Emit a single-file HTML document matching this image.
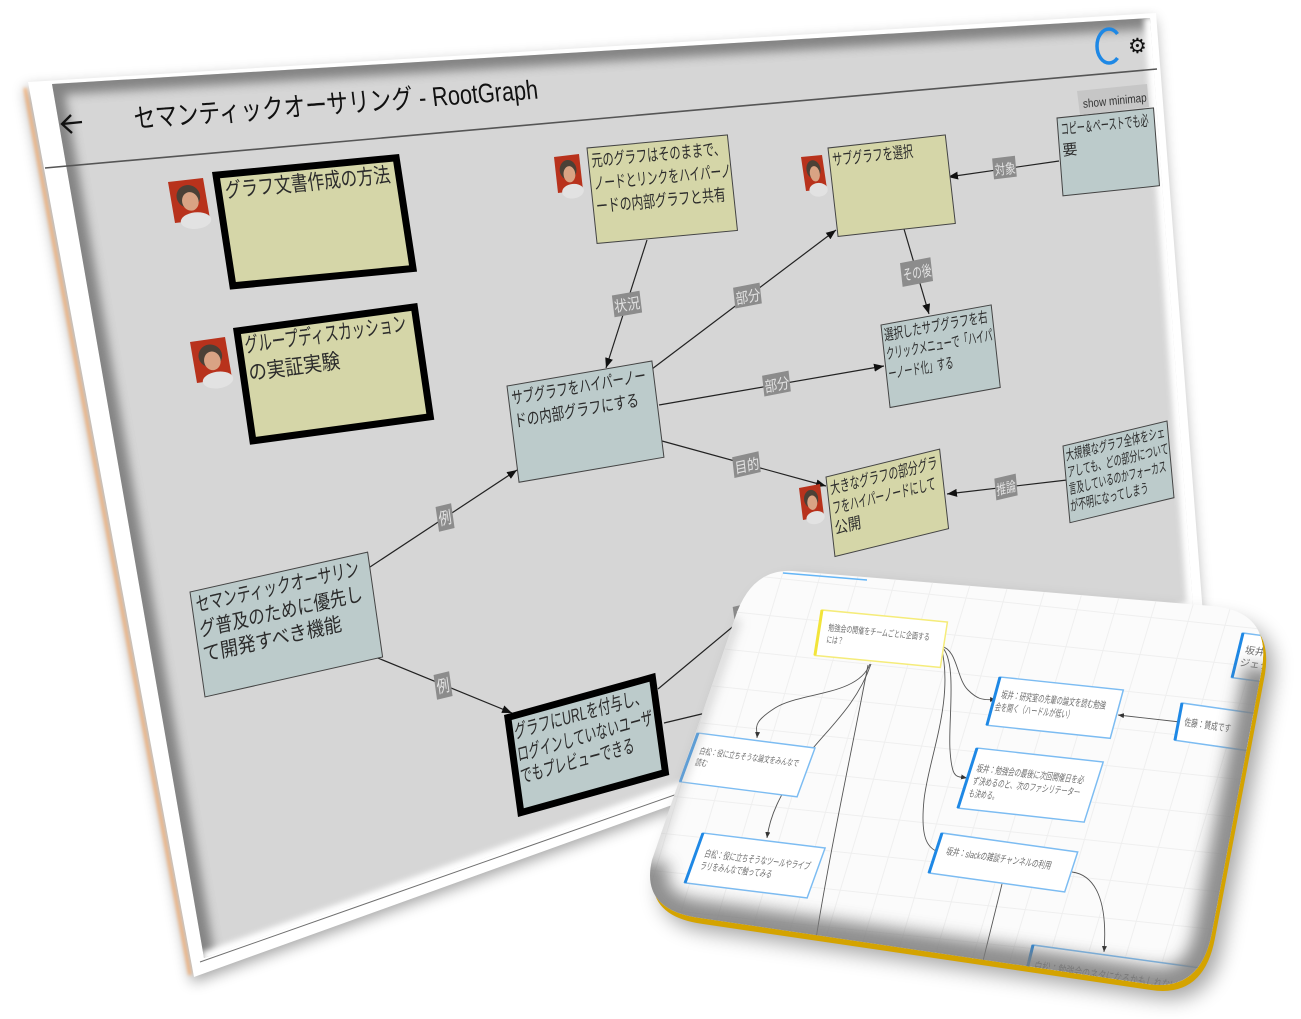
<!DOCTYPE html>
<html><head><meta charset="utf-8"><style>
html,body{margin:0;padding:0;background:#fff;width:1301px;height:1019px;overflow:hidden}
svg{display:block;font-family:"Liberation Sans","Noto Sans CJK JP",sans-serif}
</style></head><body>
<svg width="1301" height="1019" viewBox="0 0 1301 1019" xmlns="http://www.w3.org/2000/svg">
<defs>
<filter id="b7" filterUnits="userSpaceOnUse" x="0" y="0" width="1301" height="1019"><feGaussianBlur stdDeviation="7"/></filter>
<filter id="b5" filterUnits="userSpaceOnUse" x="0" y="0" width="1301" height="1019"><feGaussianBlur stdDeviation="5"/></filter>
<filter id="b3" filterUnits="userSpaceOnUse" x="0" y="0" width="1301" height="1019"><feGaussianBlur stdDeviation="3"/></filter>
<filter id="b10" filterUnits="userSpaceOnUse" x="0" y="0" width="1301" height="1019"><feGaussianBlur stdDeviation="10"/></filter>
<filter id="b8" filterUnits="userSpaceOnUse" x="0" y="0" width="1301" height="1019"><feGaussianBlur stdDeviation="8"/></filter>
<filter id="b1" filterUnits="userSpaceOnUse" x="0" y="0" width="1301" height="1019"><feGaussianBlur stdDeviation="1.5"/></filter>
<clipPath id="gp"><polygon points="52,84 1150,18 1193,606 204,958"/></clipPath>
<clipPath id="mm"><path d="M792,571 L1212,606 Q1271,611 1262,668 L1212,932 Q1201,992 1148,984 L700,918 Q640,910 652,860 L735,618 Q751,569 792,571 Z"/></clipPath>
<marker id="ar" viewBox="0 0 10 8" refX="10" refY="4" markerWidth="10" markerHeight="8" markerUnits="userSpaceOnUse" orient="auto"><path d="M0,0 L10,4 L0,8 z" fill="#111"/></marker>
<marker id="sm" viewBox="0 0 6 5" refX="6" refY="2.5" markerWidth="6" markerHeight="5" markerUnits="userSpaceOnUse" orient="auto"><path d="M0,0 L6,2.5 L0,5 z" fill="#333"/></marker>
<pattern id="grid" width="37" height="37" patternUnits="userSpaceOnUse" patternTransform="matrix(1 0.105 -0.3 1 0 0)"><path d="M0,0.5 H37 M0.5,0 V37" stroke="#efefef" stroke-width="1" fill="none"/></pattern>
<g id="av"><rect width="30" height="40" fill="#b8321c"/><ellipse cx="15" cy="16" rx="10" ry="11" fill="#4b4036"/><ellipse cx="16" cy="21" rx="7" ry="9" fill="#d9a384"/><ellipse cx="18" cy="40" rx="13" ry="8" fill="#e2e2e2"/></g>
</defs>

<!-- main panel shadow + frame -->
<polygon points="27,82 1156,13 1203,614 194,977" transform="translate(-2,6)" fill="#000" opacity="0.35" filter="url(#b7)"/>
<line x1="25" y1="88" x2="190" y2="975" stroke="#f7a35c" stroke-width="3" opacity="0.8" filter="url(#b1)"/>
<polygon points="28,82 1156,13 1203,614 194,977" fill="#fff"/>
<polygon points="52,84 1150,18 1193,606 204,958" fill="#d6d6d6"/>
<g clip-path="url(#gp)">
<polyline points="204,958 52,84 1150,18" stroke="#707070" stroke-width="22" fill="none" filter="url(#b5)" opacity="0.8"/>
<polyline points="1150,18 1193,606 204,958" stroke="#fff" stroke-width="12" fill="none" filter="url(#b3)"/>
</g>
<line x1="200" y1="962" x2="1200" y2="610" stroke="#333" stroke-width="1" opacity="0.7"/>

<!-- header -->
<line x1="45" y1="168" x2="1157" y2="69" stroke="#555" stroke-width="1.6"/>
<path d="M82,122 L62,124 M71,115 L62,124 L72,133" stroke="#111" stroke-width="2.3" fill="none"/>
<text transform="matrix(0.9973 -0.073 0.12 0.993 135 128)" x="0" y="0" font-size="27" fill="#111" textLength="405" lengthAdjust="spacingAndGlyphs">セマンティックオーサリング - RootGraph</text>
<path d="M1117.5,34 A12 17 0 1 0 1117.5,58" stroke="#1e88e5" stroke-width="3.5" fill="none"/>
<text x="1128" y="53" font-size="21" font-weight="bold" fill="#111" style="font-family:'DejaVu Sans',sans-serif">⚙</text>

<!-- edges -->
<g stroke="#222" stroke-width="1.2" fill="none" marker-end="url(#ar)">
<line x1="647" y1="240" x2="606" y2="368"/>
<line x1="652" y1="369" x2="836" y2="230"/>
<line x1="659" y1="405" x2="884" y2="366"/>
<line x1="662" y1="441" x2="826" y2="486"/>
<line x1="904" y1="229" x2="929" y2="314"/>
<line x1="1059" y1="161" x2="948" y2="177"/>
<line x1="1067" y1="480" x2="947" y2="494"/>
<line x1="370" y1="567" x2="517" y2="470"/>
<line x1="368" y1="654" x2="512" y2="713"/>
</g>
<g stroke="#222" stroke-width="1.2" fill="none">
<line x1="658" y1="689" x2="760" y2="604"/>
<line x1="664" y1="723" x2="760" y2="700"/>
</g>

<!-- avatars -->
<use href="#av" transform="matrix(1.167 -0.133 0.175 1.025 168 182)"/>
<use href="#av" transform="matrix(1.167 -0.167 0.175 1.025 190 342)"/>
<use href="#av" transform="matrix(0.833 -0.1 0.1 0.9 554 157)"/>
<use href="#av" transform="matrix(0.7 -0.067 0.125 0.85 801 157)"/>
<use href="#av" transform="matrix(0.7 -0.133 0.1 0.8 799 488)"/>

<!-- nodes -->
<g fill="#2b2b2b">
<g transform="matrix(0.9952 -0.0958 0.1508 0.9884 212 172)">
<rect x="3.5" y="3.5" width="181" height="112" fill="#d5d6a8" stroke="#000" stroke-width="7"/>
<text x="10" y="27" font-size="21" textLength="166" lengthAdjust="spacingAndGlyphs">グラフ文書作成の方法</text>
</g>
<g transform="matrix(0.9909 -0.1346 0.1438 0.9896 233 328)">
<rect x="3.5" y="3.5" width="179" height="111" fill="#d5d6a8" stroke="#000" stroke-width="7"/>
<text x="9" y="26" font-size="21" textLength="163" lengthAdjust="spacingAndGlyphs">グループディスカッション</text>
<text x="9" y="54" font-size="21" textLength="92" lengthAdjust="spacingAndGlyphs">の実証実験</text>
</g>
<g transform="matrix(0.9957 -0.0925 0.1047 0.9945 587 148)">
<rect x="0" y="0" width="141" height="96" fill="#d5d6a8" stroke="#444" stroke-width="1"/>
<text x="3" y="19" font-size="17" textLength="134" lengthAdjust="spacingAndGlyphs">元のグラフはそのままで、</text>
<text x="3" y="42" font-size="17" textLength="138" lengthAdjust="spacingAndGlyphs">ノードとリンクをハイパーノ</text>
<text x="3" y="65" font-size="17" textLength="130" lengthAdjust="spacingAndGlyphs">ードの内部グラフと共有</text>
</g>
<g transform="matrix(0.9940 -0.1104 0.1129 0.9936 828 148)">
<rect x="0" y="0" width="118" height="89" fill="#d5d6a8" stroke="#444" stroke-width="1"/>
<text x="3" y="18" font-size="16" textLength="81" lengthAdjust="spacingAndGlyphs">サブグラフを選択</text>
</g>
<g transform="matrix(0.9948 -0.1036 0.0767 0.9971 1057 118)">
<rect x="0" y="0" width="97" height="78" fill="#bccbcb" stroke="#444" stroke-width="1"/>
<text x="3" y="17" font-size="15" textLength="88" lengthAdjust="spacingAndGlyphs">コピー＆ペーストでも必</text>
<text x="3" y="38" font-size="15">要</text>
</g>
<g transform="matrix(0.9839 -0.1789 0.1091 0.9940 881 325)">
<rect x="0" y="0" width="112" height="83" fill="#bccbcb" stroke="#444" stroke-width="1"/>
<text x="2" y="16" font-size="15" textLength="105" lengthAdjust="spacingAndGlyphs">選択したサブグラフを右</text>
<text x="2" y="35" font-size="15" textLength="108" lengthAdjust="spacingAndGlyphs">クリックメニューで「ハイパ</text>
<text x="2" y="55" font-size="15" textLength="66" lengthAdjust="spacingAndGlyphs">ーノード化」する</text>
</g>
<g transform="matrix(0.9857 -0.1700 0.1241 0.9923 507 386)">
<rect x="0" y="0" width="147" height="97" fill="#bccbcb" stroke="#444" stroke-width="1"/>
<text x="3" y="19" font-size="17" textLength="136" lengthAdjust="spacingAndGlyphs">サブグラフをハイパーノー</text>
<text x="3" y="42" font-size="17" textLength="126" lengthAdjust="spacingAndGlyphs">ドの内部グラフにする</text>
</g>
<g transform="matrix(0.9711 -0.2385 0.1118 0.9937 826 477)">
<rect x="0" y="0" width="117" height="80" fill="#d5d6a8" stroke="#444" stroke-width="1"/>
<text x="3" y="18" font-size="16" textLength="110" lengthAdjust="spacingAndGlyphs">大きなグラフの部分グラ</text>
<text x="3" y="38" font-size="16" textLength="106" lengthAdjust="spacingAndGlyphs">フをハイパーノードにして</text>
<text x="3" y="58" font-size="16" textLength="27" lengthAdjust="spacingAndGlyphs">公開</text>
</g>
<g transform="matrix(0.9720 -0.2336 0.0906 0.9959 1063 446)">
<rect x="0" y="0" width="107" height="77" fill="#bccbcb" stroke="#444" stroke-width="1"/>
<text x="2" y="15" font-size="14" textLength="102" lengthAdjust="spacingAndGlyphs">大規模なグラフ全体をシェ</text>
<text x="2" y="32" font-size="14" textLength="104" lengthAdjust="spacingAndGlyphs">アしても、どの部分について</text>
<text x="2" y="49" font-size="14" textLength="100" lengthAdjust="spacingAndGlyphs">言及しているのかフォーカス</text>
<text x="2" y="66" font-size="14" textLength="80" lengthAdjust="spacingAndGlyphs">が不明になってしまう</text>
</g>
<g transform="matrix(0.9759 -0.2193 0.1414 0.9899 190 592)">
<rect x="0" y="0" width="182" height="106" fill="#bccbcb" stroke="#444" stroke-width="1"/>
<text x="4" y="21" font-size="20" textLength="167" lengthAdjust="spacingAndGlyphs">セマンティックオーサリン</text>
<text x="4" y="46" font-size="20" textLength="167" lengthAdjust="spacingAndGlyphs">グ普及のために優先し</text>
<text x="4" y="71" font-size="20" textLength="142" lengthAdjust="spacingAndGlyphs">て開発すべき機能</text>
</g>
<g transform="matrix(0.9636 -0.2680 0.1359 0.9907 504 715)">
<rect x="3.5" y="3.5" width="150" height="96" fill="#bccbcb" stroke="#000" stroke-width="7"/>
<text x="8" y="26" font-size="19" textLength="137" lengthAdjust="spacingAndGlyphs">グラフにURLを付与し、</text>
<text x="8" y="49" font-size="19" textLength="140" lengthAdjust="spacingAndGlyphs">ログインしていないユーザ</text>
<text x="8" y="71" font-size="19" textLength="118" lengthAdjust="spacingAndGlyphs">でもプレビューできる</text>
</g>
</g>

<!-- edge labels -->
<g fill="#e2e2e2">
<g transform="matrix(0.985 -0.17 0.12 0.99 627 304)"><rect x="-14" y="-11" width="28" height="22" fill="#8c8c8c"/><text x="0" y="6" font-size="15" text-anchor="middle" textLength="26" lengthAdjust="spacingAndGlyphs">状況</text></g>
<g transform="matrix(0.98 -0.19 0.11 0.99 748 296)"><rect x="-14" y="-11" width="27" height="21" fill="#8c8c8c"/><text x="0" y="6" font-size="15" text-anchor="middle" textLength="25" lengthAdjust="spacingAndGlyphs">部分</text></g>
<g transform="matrix(0.98 -0.19 0.11 0.99 777 384)"><rect x="-14" y="-11" width="27" height="21" fill="#8c8c8c"/><text x="0" y="6" font-size="15" text-anchor="middle" textLength="25" lengthAdjust="spacingAndGlyphs">部分</text></g>
<g transform="matrix(0.975 -0.22 0.11 0.99 747 465)"><rect x="-14" y="-11" width="27" height="21" fill="#8c8c8c"/><text x="0" y="6" font-size="15" text-anchor="middle" textLength="25" lengthAdjust="spacingAndGlyphs">目的</text></g>
<g transform="matrix(0.98 -0.19 0.11 0.99 917 272)"><rect x="-16" y="-12" width="31" height="24" fill="#8c8c8c"/><text x="0" y="6" font-size="15" text-anchor="middle" textLength="29" lengthAdjust="spacingAndGlyphs">その後</text></g>
<g transform="matrix(0.99 -0.12 0.09 0.99 1005 168)"><rect x="-12" y="-11" width="23" height="21" fill="#8c8c8c"/><text x="0" y="6" font-size="14" text-anchor="middle" textLength="21" lengthAdjust="spacingAndGlyphs">対象</text></g>
<g transform="matrix(0.97 -0.23 0.09 0.99 1006 487)"><rect x="-11" y="-11" width="22" height="22" fill="#8c8c8c"/><text x="0" y="6" font-size="14" text-anchor="middle" textLength="20" lengthAdjust="spacingAndGlyphs">推論</text></g>
<g transform="matrix(0.97 -0.24 0.14 0.99 445 517)"><rect x="-8" y="-12" width="16" height="25" fill="#8c8c8c"/><text x="0" y="7" font-size="17" text-anchor="middle" textLength="13" lengthAdjust="spacingAndGlyphs">例</text></g>
<g transform="matrix(0.97 -0.24 0.14 0.99 443 685)"><rect x="-8" y="-12" width="16" height="25" fill="#8c8c8c"/><text x="0" y="7" font-size="17" text-anchor="middle" textLength="13" lengthAdjust="spacingAndGlyphs">例</text></g>
<g transform="matrix(0.97 -0.24 0.14 0.99 742 616)"><rect x="-8" y="-11" width="16" height="22" fill="#8c8c8c"/><text x="0" y="6" font-size="15" text-anchor="middle" textLength="13" lengthAdjust="spacingAndGlyphs">目</text></g>
</g>

<!-- show minimap button -->
<polygon points="1077,91 1147,84 1149,107 1080,115" fill="#c6c6c6"/>
<text transform="matrix(0.995 -0.1 0.08 1 1081 92)" x="1" y="16" font-size="12" fill="#333" textLength="64" lengthAdjust="spacingAndGlyphs">show minimap</text>

<!-- minimap -->
<path d="M792,571 L1212,606 Q1271,611 1262,668 L1212,932 Q1201,992 1148,984 L700,918 Q640,910 652,860 L735,618 Q751,569 792,571 Z" transform="translate(10,14)" fill="#000" opacity="0.35" filter="url(#b10)"/>
<path d="M792,571 L1212,606 Q1271,611 1262,668 L1212,932 Q1201,992 1148,984 L700,918 Q640,910 652,860 L735,618 Q751,569 792,571 Z" transform="translate(3,6)" fill="#d4a300"/>
<path d="M792,571 L1212,606 Q1271,611 1262,668 L1212,932 Q1201,992 1148,984 L700,918 Q640,910 652,860 L735,618 Q751,569 792,571 Z" fill="#fbfbfb"/>
<g clip-path="url(#mm)">
<rect x="600" y="540" width="700" height="480" fill="url(#grid)"/>
<line x1="783" y1="573" x2="867" y2="580" stroke="#64b5f6" stroke-width="1.5"/>

<g stroke="#555" stroke-width="0.9" fill="none">
<path d="M870,664 C858,696 800,692 775,708 S758,728 757,738" marker-end="url(#sm)"/>
<path d="M871,664 C855,710 820,735 800,765 S770,815 767,838" marker-end="url(#sm)"/>
<path d="M868,665 C850,760 830,850 815,945"/>
<path d="M941,646 C958,650 956,678 968,690 S985,699 996,700" marker-end="url(#sm)"/>
<path d="M941,646 C958,660 948,720 950,750 S956,776 967,778" marker-end="url(#sm)"/>
<path d="M941,646 C955,700 928,760 924,800 S928,850 942,853" marker-end="url(#sm)"/>
<path d="M1180,722 L1118,715" marker-end="url(#sm)"/>
<path d="M1072,872 C1095,875 1108,900 1104,952" marker-end="url(#sm)"/>
<path d="M1002,884 L982,965"/>
</g>

<g fill="#6e6e6e">
<g transform="matrix(0.9953 0.0955 -0.1538 0.9881 822 610)">
<rect x="0" y="0" width="126" height="46" fill="#fff" stroke="#f5ec7a" stroke-width="1.5"/>
<line x1="0" y1="0" x2="0" y2="46" stroke="#f2e43a" stroke-width="3"/>
<text x="9" y="20" font-size="9" textLength="102" lengthAdjust="spacingAndGlyphs">勉強会の開催をチームごとに企画する</text>
<text x="9" y="32" font-size="9" textLength="17" lengthAdjust="spacingAndGlyphs">には？</text>
</g>
<g transform="matrix(0.9915 0.1271 -0.3448 0.9387 698 733)">
<rect x="0" y="0" width="118" height="52" fill="#fff" stroke="#7cbcf2" stroke-width="1.5"/>
<line x1="0" y1="0" x2="0" y2="52" stroke="#1e88e5" stroke-width="3"/>
<text x="8" y="21" font-size="9" textLength="100" lengthAdjust="spacingAndGlyphs">白松：役に立ちそうな論文をみんなで</text>
<text x="8" y="33" font-size="9" textLength="12" lengthAdjust="spacingAndGlyphs">読む</text>
</g>
<g transform="matrix(0.9926 0.1220 -0.3390 0.9416 703 833)">
<rect x="0" y="0" width="123" height="53" fill="#fff" stroke="#7cbcf2" stroke-width="1.5"/>
<line x1="0" y1="0" x2="0" y2="53" stroke="#1e88e5" stroke-width="3"/>
<text x="9" y="24" font-size="10" textLength="106" lengthAdjust="spacingAndGlyphs">白松：役に立ちそうなツールやライブ</text>
<text x="9" y="37" font-size="10" textLength="72" lengthAdjust="spacingAndGlyphs">ラリをみんなで触ってみる</text>
</g>
<g transform="matrix(0.9904 0.1384 -0.3095 0.9524 942 833)">
<rect x="0" y="0" width="137" height="42" fill="#fff" stroke="#7cbcf2" stroke-width="1.5"/>
<line x1="0" y1="0" x2="0" y2="42" stroke="#1e88e5" stroke-width="3"/>
<text x="10" y="21" font-size="10" textLength="106" lengthAdjust="spacingAndGlyphs">坂井：slackの雑談チャンネルの利用</text>
</g>
<g transform="matrix(0.9944 0.1051 -0.2615 0.9652 1000 677)">
<rect x="0" y="0" width="124" height="50" fill="#fff" stroke="#7cbcf2" stroke-width="1.5"/>
<line x1="0" y1="0" x2="0" y2="50" stroke="#1e88e5" stroke-width="3"/>
<text x="6" y="21" font-size="10" textLength="105" lengthAdjust="spacingAndGlyphs">坂井：研究室の先輩の論文を読む勉強</text>
<text x="3" y="34" font-size="10" textLength="79" lengthAdjust="spacingAndGlyphs">会を開く（ハードルが低い）</text>
</g>
<g transform="matrix(0.9937 0.1104 -0.3020 0.9539 977 748)">
<rect x="0" y="0" width="127" height="63" fill="#fff" stroke="#7cbcf2" stroke-width="1.5"/>
<line x1="0" y1="0" x2="0" y2="63" stroke="#1e88e5" stroke-width="3"/>
<text x="6" y="24" font-size="10" textLength="108" lengthAdjust="spacingAndGlyphs">坂井：勉強会の最後に次回開催日を必</text>
<text x="6" y="37" font-size="10" textLength="108" lengthAdjust="spacingAndGlyphs">ず決めるのと、次のファシリテーター</text>
<text x="6" y="50" font-size="10" textLength="30" lengthAdjust="spacingAndGlyphs">も決める。</text>
</g>
<g transform="matrix(0.99 0.1414 -0.1857 0.9814 1182 703)">
<rect x="0" y="0" width="90" height="38" fill="#fff" stroke="#7cbcf2" stroke-width="1.5"/>
<line x1="0" y1="0" x2="0" y2="38" stroke="#1e88e5" stroke-width="3"/>
<text x="6" y="22" font-size="10" textLength="47" lengthAdjust="spacingAndGlyphs">佐藤：賛成です</text>
</g>
<g transform="matrix(0.991 0.133 -0.237 0.971 1243 633)">
<rect x="0" y="0" width="80" height="46" fill="#fff" stroke="#7cbcf2" stroke-width="1.5"/>
<line x1="0" y1="0" x2="0" y2="46" stroke="#1e88e5" stroke-width="3"/>
<text x="6" y="20" font-size="10" textLength="50" lengthAdjust="spacingAndGlyphs">坂井：プロ</text>
<text x="4" y="33" font-size="10" textLength="40" lengthAdjust="spacingAndGlyphs">ジェクト</text>
</g>
<g transform="matrix(0.9905 0.1364 -0.2376 0.9719 1033 945)">
<rect x="0" y="0" width="168" height="46" fill="#fff" stroke="#7cbcf2" stroke-width="1.5"/>
<line x1="0" y1="0" x2="0" y2="46" stroke="#1e88e5" stroke-width="3"/>
<text x="6" y="25" font-size="12" textLength="145" lengthAdjust="spacingAndGlyphs">白松：勉強会のネタになるかもしれない</text>
</g>
</g>

<path d="M652,860 Q640,910 700,918 L1148,984 Q1201,992 1212,932 L1262,668" stroke="#7c7c7c" stroke-width="36" fill="none" filter="url(#b8)" opacity="0.85"/>
<path d="M735,618 L652,860" stroke="#bdbdbd" stroke-width="14" fill="none" filter="url(#b5)" opacity="0.5"/>
</g>
</svg>
</body></html>
